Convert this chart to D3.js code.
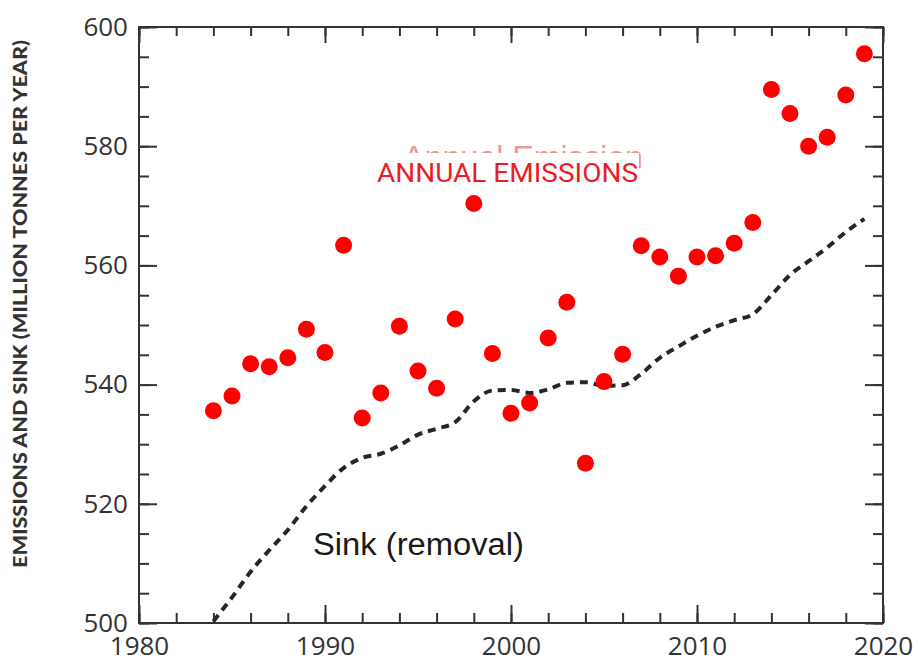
<!DOCTYPE html>
<html>
<head>
<meta charset="utf-8">
<script src="https://cdn.jsdelivr.net/npm/d3@7"></script>
<style>
  body { margin: 0; background: #fff; }
  svg { display: block; }
</style>
</head>
<body>
<svg id="svg0" width="918" height="662"></svg>
<script>
// years with data
var years = [1984, 1985, 1986, 1987, 1988, 1989, 1990, 1991, 1992, 1993,
             1994, 1995, 1996, 1997, 1998, 1999, 2000, 2001, 2002, 2003,
             2004, 2005, 2006, 2007, 2008, 2009, 2010, 2011, 2012, 2013,
             2014, 2015, 2016, 2017, 2018, 2019];

// annual emissions (million tonnes per year)
var emissions = [535.6, 538.1, 543.5, 543.0, 544.5, 549.3, 545.4, 563.4, 534.4, 538.6,
                 549.8, 542.3, 539.4, 551.0, 570.4, 545.2, 535.2, 536.9, 547.8, 553.8,
                 526.8, 540.5, 545.1, 563.3, 561.4, 558.2, 561.4, 561.6, 563.7, 567.2,
                 589.5, 585.5, 580.0, 581.5, 588.6, 595.5];

// sink (removal)
var sink = [500.3, 504.3, 508.6, 512.2, 515.6, 519.6, 523.0, 526.0, 527.7, 528.4,
            529.8, 531.6, 532.6, 533.7, 537.2, 539.0, 539.1, 538.6, 539.2, 540.3,
            540.4, 539.8, 539.9, 541.8, 544.5, 546.4, 548.2, 549.7, 550.8, 551.8,
            555.0, 558.4, 560.7, 563.0, 565.6, 567.8];

var xTicksMajor = [1980, 1990, 2000, 2010, 2020];
var yTicksMajor = [500, 520, 540, 560, 580, 600];

var marginLeft = 139;
var marginTop = 27;
var width = 744;
var height = 596;

var svg = d3.select('#svg0');

var g = svg.append('g')
    .attr('transform', 'translate(' + marginLeft + ',' + marginTop + ')');

var x = d3.scaleLinear().domain([1980, 2020]).range([0, width]);
var y = d3.scaleLinear().domain([500, 600]).range([height, 0]);

var axisColor = '#333';

// axes - ticks point inward, minor ones shorter
function styleAxis(sel) {
    sel.select('.domain').remove();
    sel.selectAll('line').attr('stroke', axisColor).attr('stroke-width', 2);
    sel.selectAll('text')
        .attr('fill', '#333')
        .style('font-family', '"Open Sans", sans-serif')
        .style('font-size', '26px');
}

var xMinor = d3.range(1980, 2021, 2);
var yMinor = d3.range(500, 601, 5);

g.append('g').attr('transform', 'translate(0,' + height + ')')
    .call(d3.axisBottom(x).tickValues(xMinor).tickSize(-10).tickFormat(''))
    .call(styleAxis);
g.append('g').attr('transform', 'translate(0,' + height + ')')
    .call(d3.axisBottom(x).tickValues(xTicksMajor).tickSize(-18).tickPadding(14).tickFormat(d3.format('d')))
    .call(styleAxis);

g.append('g')
    .call(d3.axisTop(x).tickValues(xMinor).tickSize(-9).tickFormat(''))
    .call(styleAxis);
g.append('g')
    .call(d3.axisTop(x).tickValues(xTicksMajor).tickSize(-16).tickFormat(''))
    .call(styleAxis);

g.append('g')
    .call(d3.axisLeft(y).tickValues(yMinor).tickSize(-10).tickFormat(''))
    .call(styleAxis);
g.append('g')
    .call(d3.axisLeft(y).tickValues(yTicksMajor).tickSize(-18).tickPadding(11).tickFormat(d3.format('d')))
    .call(styleAxis);

g.append('g').attr('transform', 'translate(' + width + ',0)')
    .call(d3.axisRight(y).tickValues(yMinor).tickSize(-10).tickFormat(''))
    .call(styleAxis);
g.append('g').attr('transform', 'translate(' + width + ',0)')
    .call(d3.axisRight(y).tickValues(yTicksMajor).tickSize(-18).tickFormat(''))
    .call(styleAxis);

// frame
g.append('rect')
    .attr('x', 0).attr('y', 0)
    .attr('width', width).attr('height', height)
    .attr('fill', 'none')
    .attr('stroke', axisColor)
    .attr('stroke-width', 2);

// sink dashed line
var sinkData = years.map(function (d, i) { return [d, sink[i]]; });
var line = d3.line()
    .x(function (d) { return x(d[0]); })
    .y(function (d) { return y(d[1]); })
    .curve(d3.curveMonotoneX);

g.append('path')
    .datum(sinkData)
    .attr('d', line)
    .attr('fill', 'none')
    .attr('stroke', '#262626')
    .attr('stroke-width', 4)
    .attr('stroke-dasharray', '8,6');

// ghost label partly hidden behind the new one
g.append('text')
    .attr('x', 403 - marginLeft)
    .attr('y', 168 - marginTop)
    .attr('fill', '#e05555')
    .attr('opacity', 0.6)
    .style('font-family', '"Liberation Sans", Arial, sans-serif')
    .style('font-size', '32px')
    .attr('textLength', 240)
    .attr('lengthAdjust', 'spacingAndGlyphs')
    .text('Annual Emission');

g.append('rect')
    .attr('x', 374 - marginLeft)
    .attr('y', 153 - marginTop)
    .attr('width', 265)
    .attr('height', 33)
    .attr('fill', '#fff');

// emission points
g.selectAll('circle')
    .data(years)
    .enter()
    .append('circle')
    .attr('cx', function (d) { return x(d); })
    .attr('cy', function (d, i) { return y(emissions[i]); })
    .attr('r', 8.5)
    .attr('fill', '#ff0000');

// labels
g.append('text')
    .attr('x', 377 - marginLeft)
    .attr('y', 182 - marginTop)
    .attr('fill', '#ec1c24')
    .style('font-family', 'Roboto, sans-serif')
    .style('font-size', '25px')
    .attr('textLength', 261)
    .attr('lengthAdjust', 'spacingAndGlyphs')
    .text('ANNUAL EMISSIONS');

g.append('text')
    .attr('x', 313 - marginLeft)
    .attr('y', 555 - marginTop)
    .attr('fill', '#1a1a1a')
    .style('font-family', '"Liberation Sans", Arial, sans-serif')
    .style('font-size', '31px')
    .attr('textLength', 211)
    .attr('lengthAdjust', 'spacingAndGlyphs')
    .text('Sink (removal)');

// y axis title
svg.append('text')
    .attr('transform', 'translate(27,304) rotate(-90)')
    .attr('text-anchor', 'middle')
    .attr('fill', '#333')
    .style('font-family', 'Lato, sans-serif')
    .style('font-weight', '900')
    .style('font-size', '19px')
    .attr('textLength', 528)
    .attr('lengthAdjust', 'spacingAndGlyphs')
    .text('EMISSIONS AND SINK (MILLION TONNES PER YEAR)');
</script>
</body>
</html>
